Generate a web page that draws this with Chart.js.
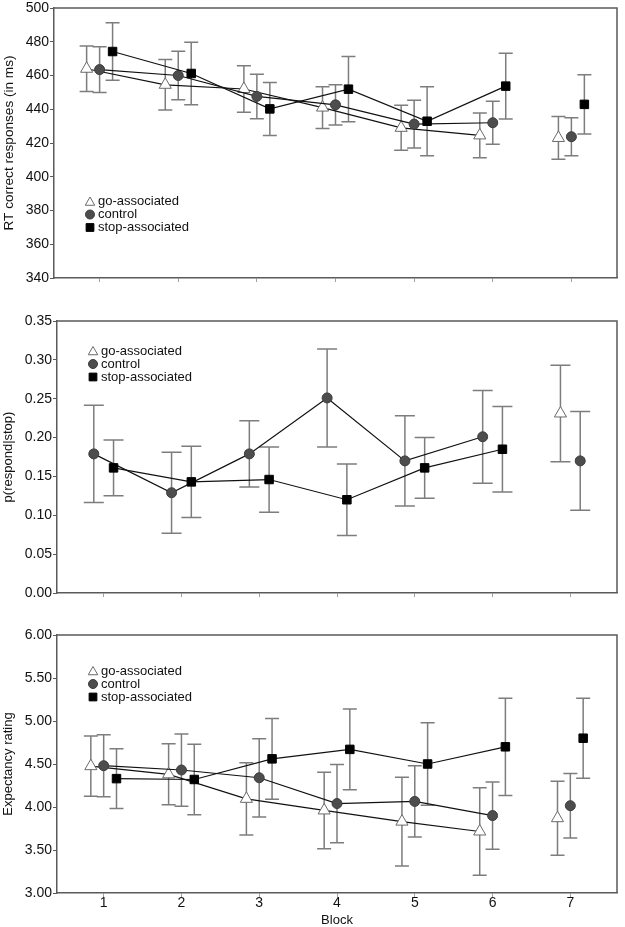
<!DOCTYPE html>
<html>
<head>
<meta charset="utf-8">
<script src="https://cdn.jsdelivr.net/npm/chart.js@4.4.1/dist/chart.umd.min.js"></script>
<style>
  html, body { margin: 0; padding: 0; background: #fff; }
  #wrap { position: relative; width: 625px; height: 927px; }
  canvas { position: absolute; left: 0; }
</style>
</head>
<body>
<div id="wrap">
  <canvas id="rt" width="625" height="300" style="top:0px"></canvas>
  <canvas id="pstop" width="625" height="310" style="top:300px"></canvas>
  <canvas id="expect" width="625" height="317" style="top:610px"></canvas>
</div>
<script>
// data (mean and half-length of the error bar)
const blocks = [1, 2, 3, 4, 5, 6, 7];
const seriesNames = ['go-associated', 'control', 'stop-associated'];

const rtGo = [464, 454.5, 452, 441, 429, 424.5, 423];
const rtGoErr = [13.5, 15, 13.8, 12.4, 13.3, 13.3, 12.7];
const rtControl = [463.5, 460, 447.6, 442.6, 431.2, 432, 423.7];
const rtControlErr = [13.5, 14.4, 13.2, 11.9, 14.2, 12.8, 11.2];
const rtStop = [474.2, 461.2, 440.2, 451.9, 432.9, 453.7, 442.9];
const rtStopErr = [17, 18.5, 15.7, 19.3, 20.4, 19.5, 17.6];
const rtTicks = [340, 360, 380, 400, 420, 440, 460, 480, 500];

const pGo = [null, null, null, null, null, null, 0.231];
const pGoErr = [null, null, null, null, null, null, 0.062];
const pControl = [0.179, 0.129, 0.179, 0.251, 0.170, 0.201, 0.170];
const pControlErr = [0.0625, 0.052, 0.0427, 0.063, 0.058, 0.0597, 0.0635];
const pStop = [0.161, 0.143, 0.146, 0.120, 0.161, 0.185, null];
const pStopErr = [0.036, 0.0457, 0.042, 0.046, 0.039, 0.055, null];
const pTicks = [0, 0.05, 0.10, 0.15, 0.20, 0.25, 0.30, 0.35];

const exGo = [4.475, 4.38, 4.095, 3.96, 3.83, 3.715, 3.87];
const exGoErr = [0.35, 0.355, 0.42, 0.445, 0.515, 0.51, 0.43];
const exControl = [4.48, 4.43, 4.34, 4.04, 4.065, 3.90, 4.015];
const exControlErr = [0.36, 0.42, 0.455, 0.455, 0.415, 0.39, 0.375];
const exStop = [4.33, 4.32, 4.56, 4.67, 4.50, 4.70, 4.80];
const exStopErr = [0.346, 0.41, 0.47, 0.47, 0.48, 0.565, 0.465];
const exTicks = [3.0, 3.5, 4.0, 4.5, 5.0, 5.5, 6.0];

Chart.defaults.font.family = '"Liberation Sans", Arial, sans-serif';
Chart.defaults.color = '#111';

const markers = [
  { pointStyle: 'triangle', radius: 7, bg: '#fff', border: '#6a6a6a', legendR: 5.5 },
  { pointStyle: 'circle', radius: 5, bg: '#4d4d4d', border: '#3c3c3c', legendR: 4.5 },
  { pointStyle: 'rect', radius: 6, bg: '#000', border: '#000', legendR: 5.5 }
];

// error bars drawn under the markers, using the chart scales
const errorBars = {
  id: 'errorBars',
  beforeDatasetsDraw(chart, args, opts) {
    const { ctx, scales: { x, y } } = chart;
    ctx.save();
    ctx.strokeStyle = '#7d7d7d';
    ctx.lineWidth = 1.5;
    chart.data.datasets.forEach(ds => {
      ds.data.forEach((p, i) => {
        const e = ds.errors[i];
        if (p.y == null || e == null) return;
        const px = x.getPixelForValue(p.x);
        const top = y.getPixelForValue(p.y + e);
        const bot = y.getPixelForValue(p.y - e);
        ctx.beginPath();
        ctx.moveTo(px, top); ctx.lineTo(px, bot);
        ctx.moveTo(px - opts.cap, top); ctx.lineTo(px + opts.cap, top);
        ctx.moveTo(px - opts.cap, bot); ctx.lineTo(px + opts.cap, bot);
        ctx.stroke();
      });
    });
    ctx.restore();
  }
};

// top/right frame and the little legend inside the plot
const frameLegend = {
  id: 'frameLegend',
  afterDraw(chart, args, opts) {
    const { ctx, chartArea: a } = chart;
    ctx.save();
    ctx.strokeStyle = '#5a5a5a';
    ctx.lineWidth = 1.5;
    ctx.beginPath();
    ctx.moveTo(a.left, a.top); ctx.lineTo(a.right, a.top); ctx.lineTo(a.right, a.bottom);
    ctx.stroke();
    ctx.font = '13px "Liberation Sans", Arial, sans-serif';
    ctx.textBaseline = 'middle';
    seriesNames.forEach((name, i) => {
      const m = markers[i];
      const mx = a.left + opts.dx, my = a.top + opts.dy + i * 13;
      ctx.fillStyle = m.bg;
      ctx.strokeStyle = m.border;
      ctx.lineWidth = 1;
      Chart.helpers.drawPoint(ctx, { pointStyle: m.pointStyle, radius: m.legendR, rotation: 0, borderWidth: 1 }, mx, my + (i === 0 ? 1 : 0));
      ctx.fillStyle = '#111';
      ctx.fillText(name, a.left + opts.dx + 8, my);
    });
    ctx.restore();
  }
};

function makeChart(id, p) {
  const datasets = p.series.map((vals, s) => ({
    label: seriesNames[s],
    data: blocks.map((b, i) => ({ x: b + p.offset(s, i), y: vals[i] })),
    errors: p.errors[s],
    showLine: true,
    spanGaps: false,
    borderColor: '#111',
    borderWidth: 1.2,
    segment: { borderColor: c => blocks[c.p1DataIndex] === 7 ? 'rgba(0,0,0,0)' : '#111' },
    pointStyle: markers[s].pointStyle,
    pointRadius: markers[s].radius,
    pointBackgroundColor: markers[s].bg,
    pointBorderColor: markers[s].border,
    pointBorderWidth: 1,
    order: 3 - s
  }));

  return new Chart(document.getElementById(id), {
    type: 'scatter',
    data: { datasets },
    options: {
      responsive: false,
      animation: false,
      layout: { padding: p.padding },
      plugins: {
        legend: { display: false },
        tooltip: { enabled: false },
        errorBars: { cap: p.cap },
        frameLegend: p.legend
      },
      scales: {
        x: {
          type: 'linear',
          min: p.xMin, max: p.xMax,
          afterBuildTicks: s => { s.ticks = blocks.map(v => ({ value: v })); },
          ticks: {
            font: { size: 14 }, color: '#111', padding: p.xLabels ? -2 : 0,
            callback: v => p.xLabels ? String(v) : ''
          },
          grid: { drawOnChartArea: false, drawTicks: true, tickLength: 4, color: '#a0a0a0' },
          border: { color: '#5a5a5a', width: 1.5 },
          title: { display: !!p.xTitle, text: p.xTitle || '', font: { size: 13 }, color: '#111', padding: { top: 0, bottom: -1 } },
          afterFit: s => { s.height = p.xHeight; s.paddingLeft = 0; s.paddingRight = 0; }
        },
        y: {
          min: p.yTicks[0], max: p.yTicks[p.yTicks.length - 1],
          afterBuildTicks: s => { s.ticks = p.yTicks.map(v => ({ value: v })); },
          ticks: { font: { size: 14 }, color: '#111', padding: 1, callback: v => v.toFixed(p.decimals) },
          grid: { drawOnChartArea: false, drawTicks: true, tickLength: 4, color: '#5a5a5a' },
          border: { color: '#5a5a5a', width: 1.5 },
          title: { display: true, text: p.yTitle, font: { size: p.yTitleSize }, color: '#111', padding: { top: 1, bottom: 0 } },
          afterFit: s => { s.width = p.yWidth; s.paddingTop = 0; s.paddingBottom = 0; }
        }
      }
    },
    plugins: [errorBars, frameLegend]
  });
}

makeChart('rt', {
  series: [rtGo, rtControl, rtStop],
  errors: [rtGoErr, rtControlErr, rtStopErr],
  offset: (s, i) => (s - 1) * 0.165,
  yTicks: rtTicks, decimals: 0,
  yTitle: 'RT correct responses (in ms)', yTitleSize: 13.6,
  xMin: 0.42, xMax: 7.58, xLabels: false,
  padding: { top: 6, right: 3, left: 0, bottom: 0 },
  yWidth: 54, xHeight: 22, cap: 7,
  legend: { dx: 36, dy: 193.5 }
});

makeChart('pstop', {
  series: [pGo, pControl, pStop],
  errors: [pGoErr, pControlErr, pStopErr],
  offset: (s, i) => {
    if (blocks[i] === 7) return s === 0 ? -0.127 : 0.127;
    return s === 1 ? -0.127 : 0.127;
  },
  yTicks: pTicks, decimals: 2,
  yTitle: 'p(respond|stop)', yTitleSize: 13,
  xMin: 0.4, xMax: 7.6, xLabels: false,
  padding: { top: 21, right: 2, left: 0, bottom: 0 },
  yWidth: 57, xHeight: 17, cap: 10,
  legend: { dx: 36, dy: 30 }
});

makeChart('expect', {
  series: [exGo, exControl, exStop],
  errors: [exGoErr, exControlErr, exStopErr],
  offset: (s, i) => (s - 1) * 0.165,
  yTicks: exTicks, decimals: 2,
  yTitle: 'Expectancy rating', yTitleSize: 13,
  xTitle: 'Block',
  xMin: 0.4, xMax: 7.6, xLabels: true,
  padding: { top: 25, right: 2, left: 0, bottom: 0 },
  yWidth: 57, xHeight: 34, cap: 7,
  legend: { dx: 36, dy: 36 }
});
</script>
</body>
</html>
